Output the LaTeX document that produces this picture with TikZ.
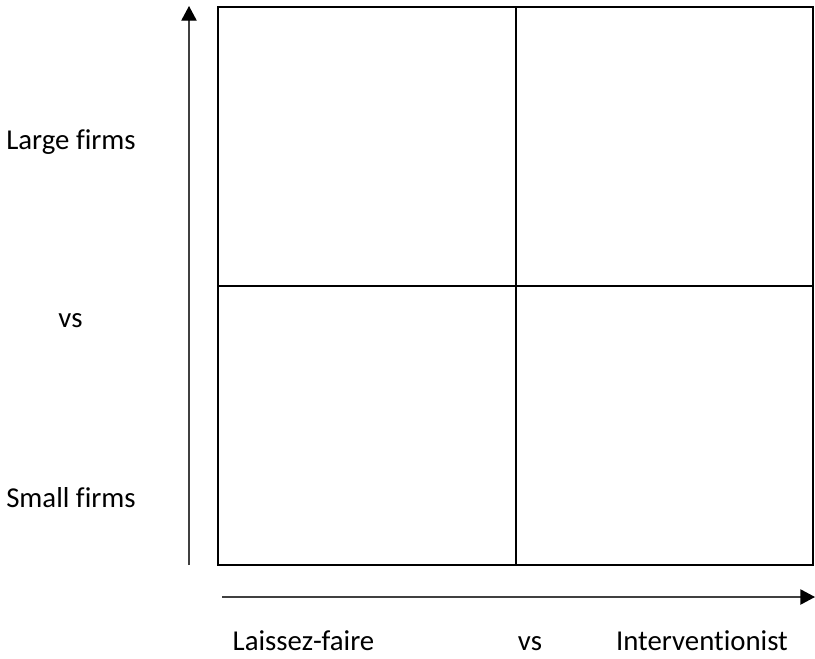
\documentclass[tikz,border=0pt]{standalone}
\usepackage{fontspec}
\setmainfont{Carlito}[Ligatures=CommonOff]
\usetikzlibrary{arrows.meta, positioning}

\begin{document}
\begin{tikzpicture}[x=0.75pt, y=-0.75pt, >={Triangle[length=11pt,width=11.5pt,color=black]},
  axislabel/.style={font=\fontsize{21.6}{26}\selectfont, anchor=base, inner sep=0pt},
  axisline/.style={black!75, line width=1pt, ->},
  gridline/.style={black, line width=1.7pt}]
  \useasboundingbox (0,0) rectangle (815,658);
  % --- Quadrant grid ---
  \coordinate (nw) at (218,7);
  \coordinate (se) at (813,565);
  \coordinate (top) at (516,7);
  \coordinate (bottom) at (516,565);
  \coordinate (left) at (218,286);
  \coordinate (right) at (813,286);
  \draw[gridline] (nw) rectangle (se);
  \draw[gridline] (top) -- (bottom);
  \draw[gridline] (left) -- (right);
  % --- Axes ---
  \coordinate (ystart) at (189,565);
  \coordinate (yend) at (189,6);
  \coordinate (xstart) at (222,597);
  \coordinate (xend) at (815,597);
  \draw[axisline] (ystart) -- (yend);
  \draw[axisline] (xstart) -- (xend);
  % Vertical axis labels
  \node[axislabel] (large) at (71,149) {Large firms};
  \node[axislabel] (vsy) at (70.5,327) {vs};
  \node[axislabel] (small) at (71,507) {Small firms};
  % Horizontal axis labels
  \node[axislabel] (laissez) at (303.5,650) {Laissez-faire};
  \node[axislabel] (vsx) at (530,650) {vs};
  \node[axislabel] (interv) at (702,650) {Interventionist};
\end{tikzpicture}
\end{document}
